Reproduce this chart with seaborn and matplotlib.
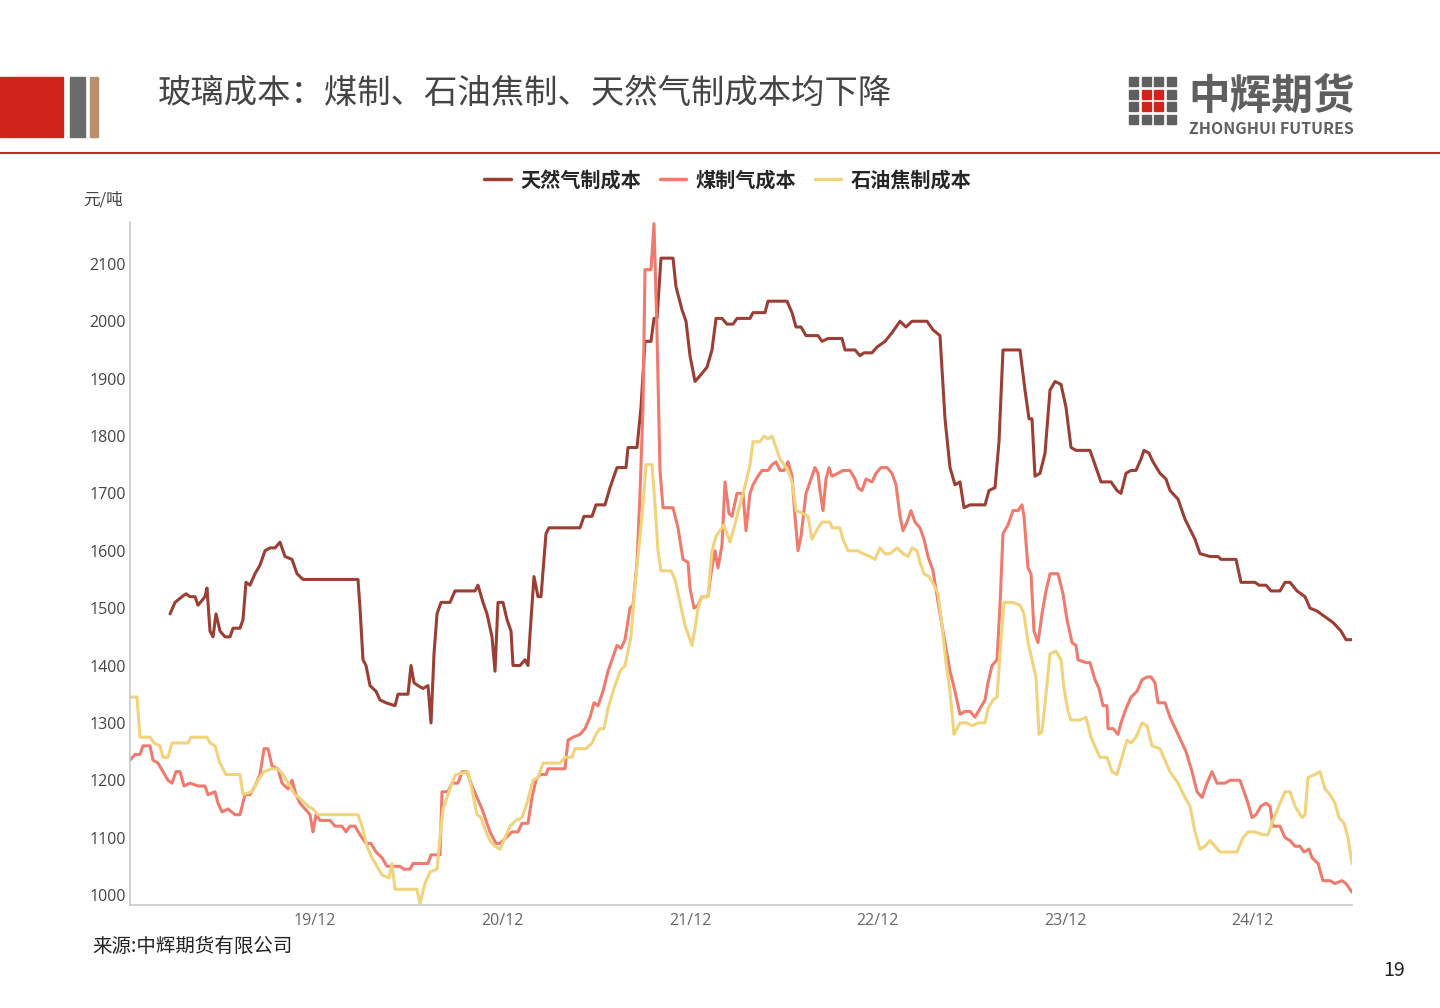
import matplotlib
matplotlib.use("Agg")
import matplotlib.pyplot as plt
import matplotlib.patches as mpatches
import numpy as np
import pandas as pd
import seaborn as sns

sns.set_style("white")
plt.rcParams['font.family'] = ['Noto Sans CJK SC', 'DejaVu Sans']

# readings: position along the time axis (chart pixel column) and value in 元/吨
gas_pos = [170,175,182,186,190,195,198,205,207,210,213,216,220,225,230,233,240,243,246,250,255,260,265,270,275,280,285,292,297,303,320,358,360,363,366,370,376,380,386,395,398,408,411,414,418,423,428,431,434,437,441,450,455,475,478,483,487,492,495,498,503,507,511,513,520,525,528,531,534,538,541,546,549,580,584,592,596,605,610,617,626,628,637,641,645,651,654,657,661,673,676,682,686,690,695,700,707,712,716,722,727,733,737,750,753,765,768,787,792,796,801,806,818,822,828,842,845,855,860,864,872,877,885,892,900,906,912,927,933,940,945,950,955,960,964,970,985,989,995,999,1003,1020,1025,1029,1032,1035,1040,1045,1050,1055,1061,1066,1071,1076,1090,1096,1101,1111,1117,1121,1126,1131,1136,1141,1144,1149,1153,1160,1166,1170,1178,1185,1195,1200,1210,1218,1221,1236,1241,1255,1259,1266,1271,1280,1285,1290,1297,1305,1310,1317,1325,1333,1341,1346,1352]
gas_val = [1490,1510,1520,1525,1520,1520,1505,1520,1535,1460,1450,1490,1460,1450,1450,1465,1465,1480,1545,1540,1560,1575,1600,1605,1605,1615,1590,1585,1560,1550,1550,1550,1500,1410,1400,1365,1355,1340,1335,1330,1350,1350,1400,1370,1365,1360,1365,1300,1420,1490,1510,1510,1530,1530,1540,1510,1490,1450,1390,1510,1510,1480,1460,1400,1400,1410,1400,1480,1555,1520,1520,1630,1640,1640,1660,1660,1680,1680,1710,1745,1745,1780,1780,1850,1965,1965,2005,2005,2110,2110,2060,2020,2000,1940,1895,1905,1920,1950,2005,2005,1995,1995,2005,2005,2015,2015,2035,2035,2015,1990,1990,1975,1975,1965,1970,1970,1950,1950,1940,1945,1945,1955,1965,1980,2000,1990,2000,2000,1985,1975,1830,1745,1715,1720,1675,1680,1680,1705,1710,1790,1950,1950,1880,1830,1830,1730,1735,1770,1880,1895,1890,1850,1780,1775,1775,1745,1720,1720,1705,1700,1735,1740,1740,1760,1775,1770,1755,1735,1725,1705,1690,1655,1620,1595,1590,1590,1585,1585,1545,1545,1540,1540,1530,1530,1545,1545,1530,1520,1500,1495,1485,1475,1460,1445,1445]

coal_pos = [130,135,140,143,150,153,158,163,168,172,176,180,184,190,198,205,208,215,218,222,228,235,240,245,250,255,260,264,268,272,278,282,288,292,296,300,305,310,313,316,320,330,335,342,346,350,355,360,366,371,376,382,387,400,404,410,413,428,431,440,442,448,452,458,462,467,472,477,482,490,496,500,506,512,518,522,528,532,536,540,546,548,565,568,573,580,585,590,594,598,603,608,613,617,621,625,630,633,637,640,643,645,651,654,657,660,663,673,678,683,688,690,694,698,702,708,711,715,718,722,725,729,732,737,743,746,750,753,758,762,768,772,776,780,784,788,792,795,798,801,806,810,815,818,820,823,826,829,832,838,843,850,855,858,862,866,872,876,881,887,892,896,900,903,907,911,915,920,924,928,933,940,945,950,955,960,965,970,975,980,985,988,992,997,1000,1003,1008,1013,1018,1022,1024,1028,1031,1034,1038,1042,1046,1050,1058,1063,1067,1072,1076,1078,1086,1090,1095,1099,1103,1107,1108,1113,1118,1121,1126,1131,1137,1142,1147,1151,1155,1158,1165,1170,1178,1186,1192,1197,1202,1207,1212,1217,1225,1230,1240,1244,1248,1252,1256,1261,1266,1270,1273,1280,1285,1290,1295,1300,1304,1309,1312,1318,1323,1330,1335,1342,1346,1352]
coal_val = [1235,1245,1245,1260,1260,1235,1230,1215,1200,1195,1215,1215,1190,1195,1190,1190,1175,1180,1160,1145,1150,1140,1140,1175,1175,1190,1210,1255,1255,1225,1220,1195,1185,1200,1175,1160,1150,1140,1110,1140,1130,1130,1120,1120,1110,1120,1120,1105,1090,1090,1075,1065,1050,1050,1045,1045,1055,1055,1070,1070,1180,1180,1195,1195,1215,1215,1190,1170,1150,1110,1090,1090,1100,1110,1110,1125,1125,1170,1200,1210,1210,1220,1220,1270,1275,1280,1290,1310,1335,1330,1355,1390,1415,1435,1430,1445,1500,1505,1580,1700,1850,2090,2090,2170,1980,1740,1675,1675,1640,1585,1580,1535,1500,1505,1520,1520,1560,1600,1570,1610,1720,1665,1660,1700,1700,1635,1700,1715,1730,1740,1740,1750,1755,1740,1740,1755,1730,1660,1600,1625,1700,1720,1745,1735,1705,1670,1725,1745,1730,1735,1740,1740,1725,1710,1705,1725,1720,1735,1745,1745,1735,1715,1660,1635,1650,1670,1650,1640,1620,1590,1565,1490,1440,1390,1355,1315,1320,1320,1310,1325,1340,1370,1400,1410,1505,1630,1645,1670,1670,1680,1660,1570,1560,1460,1440,1490,1530,1560,1560,1525,1480,1440,1435,1410,1405,1405,1375,1360,1330,1330,1290,1290,1280,1300,1325,1345,1355,1375,1380,1380,1370,1335,1335,1310,1280,1250,1215,1180,1170,1195,1215,1195,1195,1200,1200,1180,1160,1135,1140,1155,1160,1155,1120,1120,1100,1095,1085,1085,1075,1080,1065,1055,1025,1025,1020,1025,1020,1005]

coke_pos = [130,137,140,150,154,160,163,168,172,180,188,191,207,210,215,220,226,236,240,243,252,258,264,272,278,283,290,295,302,308,313,318,358,362,367,372,377,382,389,392,395,405,417,420,425,430,437,440,443,448,453,456,468,473,477,481,486,490,495,500,505,510,516,522,527,533,538,543,560,565,572,575,586,592,596,600,604,608,614,620,625,631,635,640,643,646,652,655,658,661,671,675,680,685,692,695,698,702,708,712,716,720,724,730,734,740,746,750,753,760,764,768,772,776,780,788,792,796,803,808,812,818,822,830,832,840,843,848,858,863,870,875,880,885,890,897,903,908,912,917,920,924,929,934,938,942,946,950,954,960,967,972,978,985,988,993,997,1000,1004,1013,1020,1024,1028,1032,1036,1039,1042,1046,1050,1056,1061,1064,1068,1071,1080,1086,1091,1096,1100,1107,1112,1117,1122,1127,1131,1136,1142,1147,1152,1160,1165,1170,1178,1185,1190,1195,1200,1205,1210,1215,1220,1237,1243,1248,1255,1263,1268,1273,1280,1285,1290,1295,1302,1305,1308,1315,1320,1325,1330,1335,1339,1344,1348,1352]
coke_val = [1345,1345,1275,1275,1265,1260,1240,1240,1265,1265,1265,1275,1275,1265,1260,1230,1210,1210,1210,1175,1180,1200,1215,1220,1220,1210,1190,1175,1165,1155,1150,1140,1140,1120,1085,1065,1050,1035,1030,1055,1010,1010,1010,985,1020,1040,1045,1100,1150,1175,1200,1210,1215,1175,1140,1135,1110,1095,1085,1080,1100,1120,1130,1135,1160,1200,1205,1230,1230,1240,1240,1255,1255,1265,1280,1290,1290,1325,1360,1390,1400,1450,1540,1625,1680,1750,1750,1680,1600,1565,1565,1550,1510,1470,1435,1465,1500,1520,1520,1600,1625,1635,1645,1615,1640,1680,1720,1750,1790,1790,1800,1795,1800,1780,1760,1740,1720,1670,1665,1660,1620,1640,1650,1650,1640,1640,1620,1600,1600,1595,1590,1585,1605,1595,1595,1605,1595,1590,1605,1600,1580,1560,1555,1540,1525,1470,1405,1355,1280,1300,1300,1295,1300,1300,1325,1340,1345,1420,1510,1510,1505,1490,1440,1410,1380,1280,1285,1350,1420,1425,1410,1360,1320,1305,1305,1310,1275,1255,1240,1240,1215,1210,1240,1270,1265,1275,1300,1295,1260,1255,1235,1215,1195,1170,1155,1110,1080,1085,1095,1085,1075,1075,1100,1110,1110,1105,1105,1130,1160,1180,1180,1155,1135,1140,1205,1210,1215,1185,1175,1160,1135,1125,1100,1055]

tick_labels = ["19/12", "20/12", "21/12", "22/12", "23/12", "24/12"]
series_names = ["天然气制成本", "煤制气成本", "石油焦制成本"]
colors = ["#9B3F35", "#EE7B6E", "#F0D37C"]


def to_year(p):
    # chart column -> fractional year (19/12 at column 315, 187.5 columns per year)
    return 2019 + 11 / 12 + (np.asarray(p) - 315) / 187.5


frames = []
for name, pos, val in zip(series_names, [gas_pos, coal_pos, coke_pos], [gas_val, coal_val, coke_val]):
    frames.append(pd.DataFrame({"t": to_year(pos), "v": val, "s": name}))
df = pd.concat(frames)

fig = plt.figure(figsize=(14.4, 10.08), dpi=100)
ax = fig.add_axes([130 / 1440, 103 / 1008, 1222 / 1440, 683 / 1008])
sns.lineplot(data=df, x="t", y="v", hue="s", palette=colors, linewidth=2.2,
             ax=ax, legend=False, estimator=None, sort=False)

ax.set_xlim(to_year(130), to_year(1352))
ax.set_ylim(982.6, 2173)
ax.set_yticks(range(1000, 2101, 100))
ax.set_xticks([2019 + 11 / 12 + i for i in range(6)])
ax.set_xticklabels(tick_labels)
ax.set_xlabel("")
ax.set_ylabel("")
for s in ["top", "right"]:
    ax.spines[s].set_visible(False)
for s in ["left", "bottom"]:
    ax.spines[s].set_color("#C8C8C8")
    ax.spines[s].set_linewidth(1.2)
ax.tick_params(axis="y", direction="in", length=6, color="#C8C8C8", labelsize=11.5, labelcolor="#444444", pad=3)
ax.tick_params(axis="x", direction="in", length=6, color="#C8C8C8", labelsize=11.5, labelcolor="#666666", pad=6)
for lab in ax.get_xticklabels() + ax.get_yticklabels():
    lab.set_family(["Open Sans", "DejaVu Sans"])

# legend
handles = [plt.Line2D([], [], color=c, lw=2.5) for c in colors]
fig.legend(handles, series_names, loc="center", bbox_to_anchor=(728 / 1440, 1 - 180 / 1008),
           ncol=3, frameon=False, handlelength=1.3, columnspacing=0.9, handletextpad=0.5,
           prop={"weight": "bold", "size": 14.5, "family": ["Noto Sans CJK SC", "DejaVu Sans"]})

# header
fig.patches.append(mpatches.Rectangle((0, 1 - 137 / 1008), 63 / 1440, 60 / 1008, transform=fig.transFigure, color="#D0231C"))
fig.patches.append(mpatches.Rectangle((70 / 1440, 1 - 137 / 1008), 15 / 1440, 60 / 1008, transform=fig.transFigure, color="#6B6B6B"))
fig.patches.append(mpatches.Rectangle((90 / 1440, 1 - 137 / 1008), 8 / 1440, 60 / 1008, transform=fig.transFigure, color="#B98E6C"))
fig.add_artist(plt.Line2D([0, 1], [1 - 153 / 1008] * 2, color="#C0262A", lw=1.5))
fig.text(158 / 1440, 1 - 93 / 1008, "玻璃成本：煤制、石油焦制、天然气制成本均下降", fontsize=24, color="#444444", va="center")

# logo squares
for r in range(4):
    for c in range(4):
        col = "#D0231C" if c in (1, 2) and r in (1, 2) else "#5F5F5F"
        fig.patches.append(mpatches.Rectangle(((1129 + c * 12.5) / 1440, 1 - (86 + r * 12.5) / 1008), 9 / 1440, 9 / 1008,
                                              transform=fig.transFigure, color=col))
fig.text(1188 / 1440, 1 - 97 / 1008, "中辉期货", fontsize=30, fontweight="bold", color="#5F5F5F", va="center")
fig.text(1189 / 1440, 1 - 129 / 1008, "ZHONGHUI FUTURES", fontsize=11.5, fontweight="bold", color="#5F5F5F", va="center")

fig.text(83 / 1440, 1 - 200 / 1008, "元/吨", fontsize=12, color="#444444", va="center")
fig.text(92 / 1440, 1 - 947 / 1008, "来源:中辉期货有限公司", fontsize=14, color="#222222", va="center")
fig.text(1383 / 1440, 1 - 970 / 1008, "19", fontsize=14, color="#222222", va="center")

fig.savefig("out.png", dpi=100)
